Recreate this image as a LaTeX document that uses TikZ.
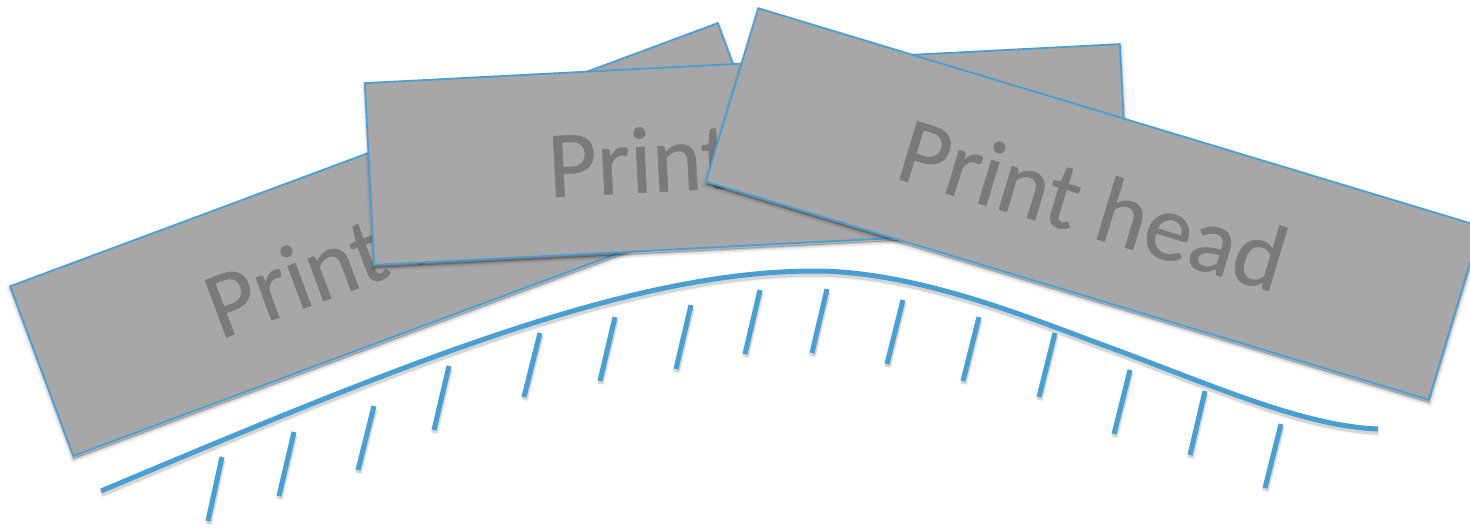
\documentclass[tikz,border=0pt]{standalone}
\usepackage{fontspec}
\setmainfont{Carlito}
\newfontfamily\headfont[FakeBold=0.5]{Carlito}
\usetikzlibrary{shadows}
\definecolor{bluel}{HTML}{4A9FD2}
\definecolor{headfill}{HTML}{A7A7A7}
\definecolor{headtext}{HTML}{7A7A7A}
\tikzset{
  softshadow/.style={
    general shadow={shadow xshift=0.5pt,shadow yshift=-3pt,fill=black,draw=black,line width=8pt,opacity=.03},
    general shadow={shadow xshift=0.5pt,shadow yshift=-3pt,fill=black,draw=black,line width=5pt,opacity=.07},
    general shadow={shadow xshift=0.5pt,shadow yshift=-3pt,fill=black,draw=black,line width=2pt,opacity=.12}},
  headbox/.style={draw=bluel,fill=headfill,line width=1.8pt,minimum width=755pt,minimum height=181pt,
    inner sep=0pt,text=headtext,font=\headfont\fontsize{95pt}{95pt}\selectfont,softshadow},
  tick/.style={draw=bluel,line width=5pt,softline},
  curveline/.style={draw=bluel,line width=5pt,softline},
  softline/.style={
    preaction={draw=black,opacity=.05,line width=8pt,transform canvas={shift={(0.5pt,-3pt)}}},
    preaction={draw=black,opacity=.12,line width=5.5pt,transform canvas={shift={(0.5pt,-3pt)}}}}
}
\begin{document}
\begin{tikzpicture}[x=1pt,y=-1pt]
\useasboundingbox (0,0) rectangle (1470,528);
\clip (0,0) rectangle (1470,528);
\node[headbox,rotate=20.4] (left) at (395.5,239.5) {Print head};
\node[headbox,rotate=2.96,minimum width=756pt,minimum height=182pt] (middle) at (747,154.5) {Print head};
\node[headbox,rotate=-16.8] (right) at (1093.5,204) {Print head};
\path[curveline] (101,491) .. controls (401,365) and (627,271) .. (815,271)
  .. controls (915,271) and (1030,318) .. (1095,342)
  .. controls (1205,382) and (1300,426) .. (1378,429);
\foreach \a/\b/\c/\d in {222/457/208/521,294/432/279/496,374/406/358/470,449/366/434/430,
  540/333/524/397,615/317/600/381,691/305/676/369,760/290/745/354,827/289/812/353,
  903/300/887/364,979/317/963/381,1055/333/1039/397,1130/370/1114/434,1205/391/1190/455,1281/424/1265/488}
  \path[tick] (\a,\b) -- (\c,\d);
\end{tikzpicture}
\end{document}
